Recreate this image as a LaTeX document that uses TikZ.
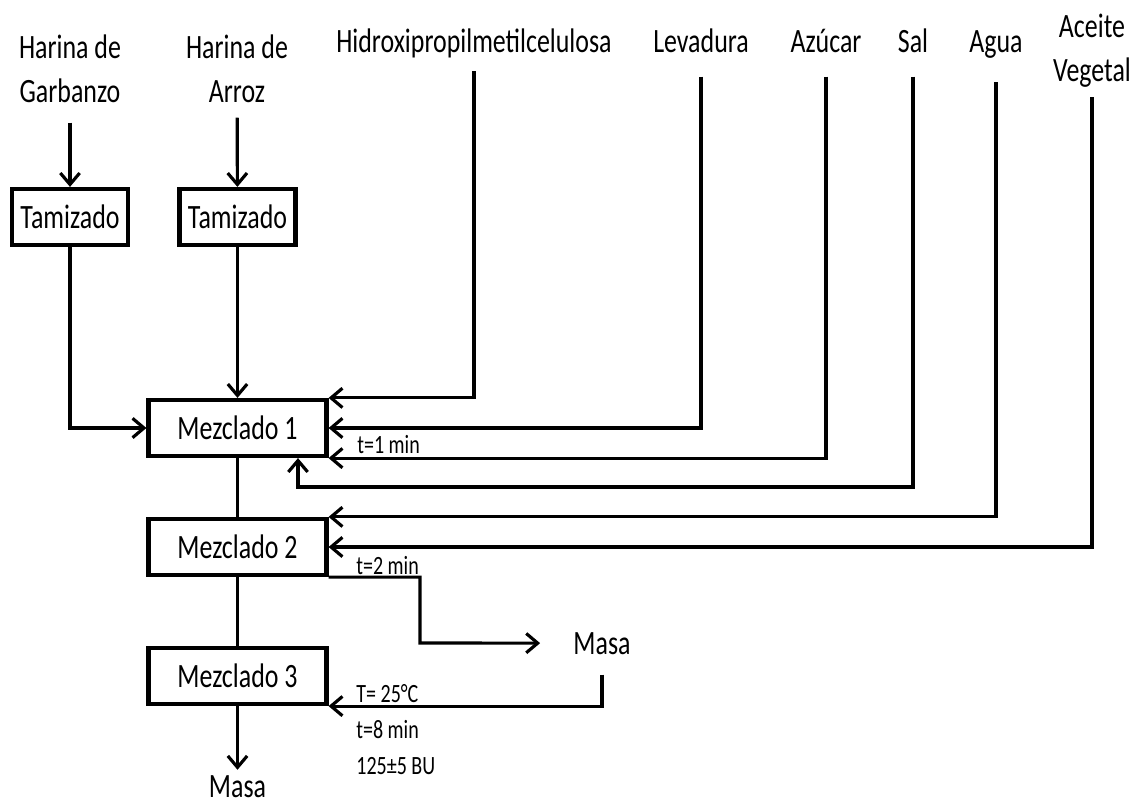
\documentclass[tikz,border=0pt]{standalone}
\usepackage{fontspec}
\setmainfont{Carlito}[FakeStretch=0.76]
\usetikzlibrary{arrows.meta}

\begin{document}
\begin{tikzpicture}[x=0.02cm,y=-0.02cm,
		caja/.style={draw,line width=2.4pt,minimum height=1.12cm,inner sep=0pt},
		texto/.style={inner sep=0pt,font=\fontsize{19.4pt}{25.5pt}\selectfont,align=center},
		dato/.style={inner sep=0pt,anchor=base west,font=\fontsize{15pt}{18pt}\selectfont},
		flujo/.style={line width=1.8pt,-{Straight Barb[length=6.5pt,width=11pt]}},
		linea/.style={line width=1.8pt}]
		\useasboundingbox (0,0) rectangle (1136,804);
		%Materias primas
		\node[texto,anchor=base] (garbanzo) at (70,103) {Harina de\\Garbanzo};
		\node[texto,anchor=base] (arroz) at (237,103) {Harina de\\Arroz};
		\node[texto,anchor=base] (hidroxi) at (474,53) {Hidroxipropilmetilcelulosa};
		\node[texto,anchor=base] (levadura) at (701,53) {Levadura};
		\node[texto,anchor=base] (azucar) at (826,53) {Azúcar};
		\node[texto,anchor=base] (sal) at (913,53) {Sal};
		\node[texto,anchor=base] (agua) at (996,53) {Agua};
		\node[texto,anchor=base] (aceite) at (1092,82) {Aceite\\Vegetal};
		%Tamizado
		\node[caja,texto,minimum width=2.32cm] (tam1) at (70,217) {Tamizado};
		\node[caja,texto,minimum width=2.32cm] (tam2) at (237.5,217) {Tamizado};
		%Mezclado
		\node[caja,texto,minimum width=3.56cm] (mez1) at (237.5,428) {Mezclado 1};
		\node[caja,texto,minimum width=3.56cm] (mez2) at (237.5,547) {Mezclado 2};
		\node[caja,texto,minimum width=3.56cm] (mez3) at (237.5,676) {Mezclado 3};
		%Masa
		\node[texto,anchor=base] (masa1) at (602,654) {Masa};
		\node[texto,anchor=base] (masa2) at (237.5,797) {Masa};
		%Condiciones
		\node[dato] (t1) at (357,453) {t=1 min};
		\node[dato] (t2) at (356,574) {t=2 min};
		\node[dato] (temp) at (356,702) {T= 25°C};
		\node[dato] (t8) at (356,738) {t=8 min};
		\node[dato] (bu) at (356,774) {125±5 BU};
		\coordinate (codoSal) at (298,487);
		\coordinate (codoMasa) at (420,643);
		%Flechas
		\draw[flujo,shorten <=0.38cm] (garbanzo) -- (tam1);
		\draw[flujo,shorten <=0.28cm] (arroz) -- (tam2);
		\draw[flujo] (tam1) |- (mez1);
		\draw[flujo] (tam2) -- (mez1);
		\draw[flujo,shorten <=0.25cm] (hidroxi) |- (mez1.north east);
		\draw[flujo,shorten <=0.46cm] (levadura) |- (mez1.east);
		\draw[flujo,shorten <=0.46cm] (azucar) |- (mez1.south east);
		\draw[flujo,shorten <=0.46cm] (sal) |- (codoSal) -- (codoSal |- mez1.south);
		\draw[flujo,shorten <=0.46cm] (agua) |- (mez2.north east);
		\draw[flujo,shorten <=0.18cm] (aceite) |- (mez2.east);
		\draw[linea] (mez1) -- (mez2);
		\draw[linea] (mez2) -- (mez3);
		\draw[flujo,shorten >=0.66cm] (mez2.south east) -| (codoMasa) -- (masa1.west);
		\draw[flujo,shorten <=0.4cm] (masa1) |- (mez3.south east);
		\draw[flujo,shorten >=0.1cm] (mez3) -- (masa2);
	\end{tikzpicture}
\end{document}
